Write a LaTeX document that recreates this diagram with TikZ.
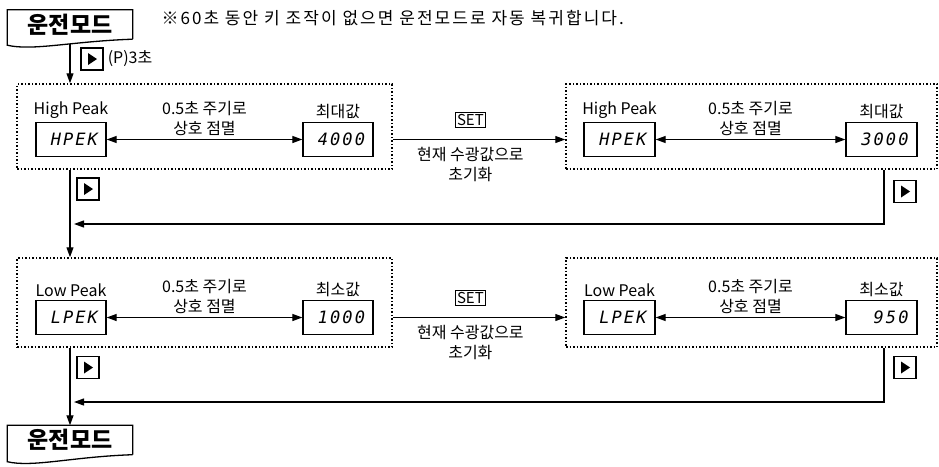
\documentclass[tikz,border=0pt]{standalone}
\usepackage{fontspec}
\setmainfont{Noto Sans CJK KR}
\newfontfamily\segfont[LetterSpace=12]{DejaVu Sans Mono}
\newfontfamily\notefont[LetterSpace=12]{Noto Sans CJK KR}
\usetikzlibrary{arrows.meta, positioning, calc}
\tikzset{
  zone/.style={draw, dotted, line width=1.5pt, inner sep=0pt, minimum width=375pt},
  disp/.style={draw, line width=1.3pt, minimum width=70pt, minimum height=34pt,
    inner sep=0pt, text width=54pt, align=right,
    font=\segfont\itshape\fontsize{17}{17}\selectfont},
  lbl/.style={font=\fontsize{16}{18}\selectfont, inner sep=1pt},
  txt/.style={font=\fontsize{16}{20}\selectfont, align=center, inner sep=1pt},
  setkey/.style={draw, line width=1pt, inner sep=1.5pt, font=\fontsize{15}{15}\selectfont},
  playkey/.style={draw, line width=1.2pt, minimum size=22pt, inner sep=0pt,
    path picture={\fill ([shift={(7pt,5pt)}]path picture bounding box.south west)
      -- ([shift={(7pt,-5pt)}]path picture bounding box.north west)
      -- ([xshift=-6pt]path picture bounding box.east) -- cycle;}},
  modebox/.style={minimum width=125pt, minimum height=29pt, inner sep=0pt,
    font=\bfseries\fontsize{23}{23}\selectfont},
  modeline/.style={line width=1.3pt},
  arr/.style={-{Triangle[length=10pt,width=7pt]}, line width=1.2pt},
  dblarr/.style={{Triangle[length=10pt,width=7pt]}-{Triangle[length=10pt,width=7pt]}, line width=1.2pt}
}
\begin{document}
\begin{tikzpicture}[x=1pt, y=-1pt]
  \useasboundingbox (0,0) rectangle (939,466);

  % Start: run mode
  \node[modebox] (mode1) at (70,24.5) {운전모드};
  \draw[modeline] (mode1.south east) -- (mode1.north east) -- (mode1.north west)
    -- ([yshift=-6pt]mode1.south west) .. controls +(25,6) and +(-60,2) .. (mode1.south east);
  \node[anchor=west, font=\notefont\fontsize{17}{17}\selectfont] (note) at (158,18)
    {※60초 동안 키 조작이 없으면 운전모드로 자동 복귀합니다.};
  \node[playkey] (pk0) at (92,59) {};
  \node[lbl, anchor=west, inner sep=4pt] (p3s) at (pk0.east) {(P)3초};

  % Groups
  \node[zone, minimum height=85pt] (z1) at (204.5,126.5) {};
  \node[zone, minimum width=371pt, minimum height=85pt] (z2) at (751.5,126.5) {};
  \node[zone, minimum height=89pt] (z3) at (204.5,302.5) {};
  \node[zone, minimum width=371pt, minimum height=89pt] (z4) at (751.5,302.5) {};

  % High peak row
  \node[disp] (hp1) at (71,139.5) {HPEK};
  \node[disp] (max1) at (338,139.5) {4000};
  \node[disp, minimum width=71pt] (hp2) at (619.5,139.5) {HPEK};
  \node[disp, minimum width=71pt] (max2) at (881.5,139.5) {3000};
  \node[lbl, above=2pt of hp1] {High Peak};
  \node[lbl, above=2pt of max1] {최대값};
  \node[lbl, above=2pt of hp2] {High Peak};
  \node[lbl, above=2pt of max2] {최대값};
  \draw[dblarr] (hp1) -- (max1) node[midway, above=2pt, txt] {0.5초 주기로\\상호 점멸};
  \draw[dblarr] (hp2) -- (max2) node[midway, above=2pt, txt] {0.5초 주기로\\상호 점멸};
  \draw[arr] (z1.east |- max1) -- (z2.west |- max1)
    node[pos=0.45, above=12pt, setkey] (set1) {SET}
    node[pos=0.45, below=6pt, txt] {현재 수광값으로\\초기화};

  % Low peak row
  \node[disp] (lp1) at (71,317.5) {LPEK};
  \node[disp] (min1) at (338,317.5) {1000};
  \node[disp, minimum width=71pt] (lp2) at (619.5,317.5) {LPEK};
  \node[disp, minimum width=71pt] (min2) at (881.5,317.5) {950};
  \node[lbl, above=2pt of lp1] {Low Peak};
  \node[lbl, above=2pt of min1] {최소값};
  \node[lbl, above=2pt of lp2] {Low Peak};
  \node[lbl, above=2pt of min2] {최소값};
  \draw[dblarr] (lp1) -- (min1) node[midway, above=2pt, txt] {0.5초 주기로\\상호 점멸};
  \draw[dblarr] (lp2) -- (min2) node[midway, above=2pt, txt] {0.5초 주기로\\상호 점멸};
  \draw[arr] (z3.east |- min1) -- (z4.west |- min1)
    node[pos=0.45, above=12pt, setkey] (set2) {SET}
    node[pos=0.45, below=6pt, txt] {현재 수광값으로\\초기화};

  % End: run mode
  \node[modebox] (mode2) at (70,440) {운전모드};
  \draw[modeline] (mode2.south east) -- (mode2.north east) -- (mode2.north west)
    -- ([yshift=-7pt]mode2.south west) .. controls +(25,6) and +(-60,2) .. (mode2.south east);

  % Flow
  \draw[arr] ([yshift=-5pt]mode1.south) -- (z1.north -| mode1.south);
  \draw[arr] (z1.south -| mode1) -- (z3.north -| mode1);
  \draw[arr] (z3.south -| mode1) -- (mode2.north);
  \coordinate (j1) at (74,224);
  \coordinate (j2) at (74,402);
  \draw[arr] ([xshift=2.5pt]z2.south -| max2) |- (j1);
  \draw[arr] ([xshift=2.5pt]z4.south -| min2) |- (j2);
  \node[playkey] (pk1) at (88,189) {};
  \node[playkey] (pk2) at (905,191.5) {};
  \node[playkey] (pk3) at (88,367.5) {};
  \node[playkey] (pk4) at (905,367.5) {};
\end{tikzpicture}
\end{document}
